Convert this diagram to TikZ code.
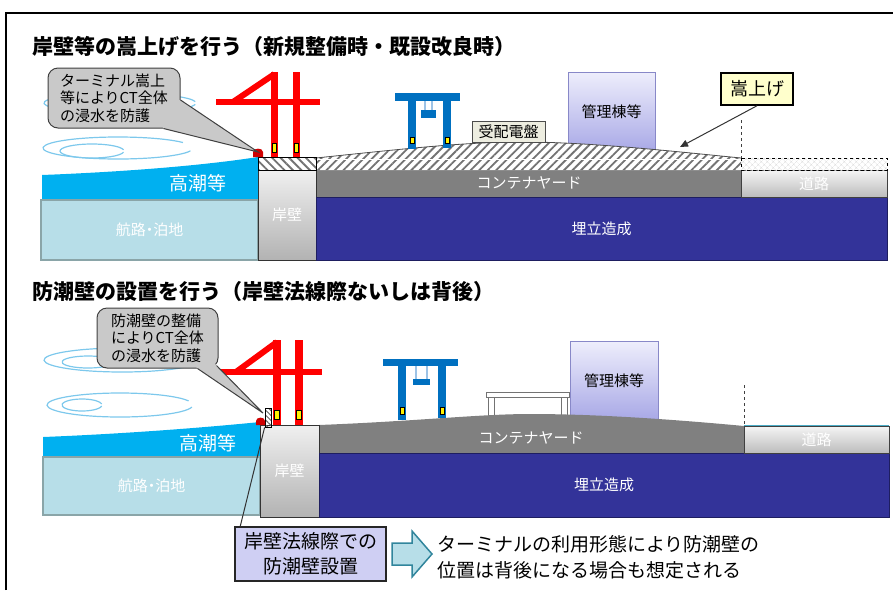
\documentclass[tikz,border=0pt]{standalone}
\usepackage{fontspec}
\newfontfamily\jp{Noto Sans CJK JP}
\newfontfamily\jpp{Noto Sans CJK JP}[RawFeature=+palt]
\usetikzlibrary{patterns.meta,arrows.meta,calc}

\definecolor{seablue}{HTML}{00B0F0}
\definecolor{fairway}{HTML}{B7DEE8}
\definecolor{fairwayedge}{HTML}{8AA5A8}
\definecolor{yardgray}{HTML}{808080}
\definecolor{reclaim}{HTML}{333399}
\definecolor{reclaimedge}{HTML}{1E1E60}
\definecolor{cranered}{HTML}{FF0000}
\definecolor{gantryblue}{HTML}{0070C0}
\definecolor{ropeblue}{HTML}{9DC3E6}
\definecolor{wave}{HTML}{7DC8EC}
\definecolor{calloutgray}{HTML}{C9C9C9}
\definecolor{officetop}{HTML}{EEEEFC}
\definecolor{officebot}{HTML}{A8A8E6}
\definecolor{officeedge}{HTML}{8888C8}
\definecolor{panelfill}{HTML}{EDEDE0}
\definecolor{notefill}{HTML}{FFFFCC}
\definecolor{lavender}{HTML}{CFCFF3}
\definecolor{arrowedge}{HTML}{31859C}
\definecolor{bollard}{HTML}{D00000}
\definecolor{tideline}{HTML}{4BACC6}

\tikzset{
  title/.style={font=\jp\bfseries\fontsize{21}{25}\selectfont, anchor=west, inner sep=0},
  wlabel/.style={font=\jp\fontsize{15}{18}\selectfont, text=white, inner sep=0},
  sealabel/.style={font=\jp\fontsize{19}{22}\selectfont, text=white, inner sep=0},
  callout/.style={draw=black!75, line width=1, fill=calloutgray, rounded corners=10,
    align=left, font=\jp\fontsize{15}{17.5}\selectfont, inner sep=0},
  wavy/.style={draw=wave, line width=1.2},
  fairwaybox/.style={fill=fairway, draw=fairwayedge, line width=2, inner sep=0,
    font=\jpp\fontsize{15}{17}\selectfont, text=white},
  quaybox/.style={top color=black!6, bottom color=black!30, draw=black!80, line width=1,
    inner sep=0, font=\jp\fontsize{15}{18}\selectfont, text=white},
  reclaimbox/.style={fill=reclaim, draw=reclaimedge, line width=1, inner sep=0,
    font=\jp\fontsize{15}{18}\selectfont, text=white},
  roadbox/.style={top color=black!4, bottom color=black!26, draw=black!75, line width=1,
    inner sep=0, font=\jp\fontsize{15}{18}\selectfont, text=white},
  officebox/.style={top color=officetop, bottom color=officebot, draw=officeedge, line width=1,
    inner sep=0, font=\jp\fontsize{15}{18}\selectfont, text=black},
  panelbox/.style={fill=panelfill, draw=black!70, line width=1, inner sep=0,
    font=\jp\fontsize{15}{18}\selectfont},
  notebox/.style={fill=notefill, draw=black, line width=1.5, inner sep=0,
    font=\jp\fontsize{18}{21}\selectfont},
  capbox/.style={pattern={Lines[angle=-45,distance=6pt,line width=1.8pt]}, pattern color=black!55,
    draw=black, line width=1, inner sep=0},
  hatchNE/.style={pattern={Lines[angle=45,distance=6pt,line width=1.8pt]}, pattern color=black!55},
  gridhatch/.style={pattern={Hatch[angle=45,distance=4pt,line width=0.4pt]}, pattern color=black!14},
  wallbox/.style={pattern={Lines[angle=-45,distance=3.5pt,line width=1pt]}, pattern color=black!60,
    draw=black, line width=0.8, inner sep=0},
  leadline/.style={draw=black!80, line width=1},
  bluebox/.style={fill=lavender, draw=black!85, line width=1.5, inner sep=0, align=center,
    font=\jp\fontsize{19}{25}\selectfont},
  bigarrow/.style={draw=arrowedge, fill=fairway, line width=1.5, line join=miter},
  notetext/.style={font=\jp\fontsize{19}{26}\selectfont, align=left, inner sep=0, anchor=west},
  yellowmark/.style={fill=yellow, draw=black, line width=0.5},
}

\begin{document}
\begin{tikzpicture}[x=1pt,y=-1pt]
\useasboundingbox (0,0) rectangle (893,590);

% outer frame
\draw[line width=2] (6,590) -- (6,13) -- (893,13);

%% ================= raising the quay and yard =================
\node[title] (title1) at (32,47) {岸壁等の嵩上げを行う（新規整備時・既設改良時）};

% swirling waves
\draw[wavy] (120,103) ++(8:76 and 10) arc[start angle=8,end angle=352,x radius=76,y radius=10];
\draw[wavy] (118,148) ++(15:75 and 11) arc[start angle=15,end angle=330,x radius=75,y radius=11];
\draw[wavy] (92,151) ++(10:32 and 7) arc[start angle=10,end angle=350,x radius=32,y radius=7];

% high water and fairway
\fill[seablue] (42,175) .. controls (120,172) and (200,166) .. (258,157) -- (258,200) -- (42,200) -- cycle;
\node[sealabel] (tide1) at (198,183) {高潮等};
\node[fairwaybox, minimum width=217, minimum height=60] (fair1) at (149.5,230) {航路・泊地};

% administration building (partly behind the raised layer)
\node[officebox, minimum width=87, minimum height=80] (office1) at (611.5,112) {管理棟等};

% container yard and the raised layer
\fill[yardgray] (316,170) rectangle (741,197);
\fill[white] (316,170) -- (316,158) .. controls (420,147) and (470,142) .. (523,142)
  .. controls (590,142) and (680,152) .. (741,158) -- (741,170) -- cycle;
\path[hatchNE] (316,170) -- (316,158) .. controls (420,147) and (470,142) .. (523,142)
  .. controls (590,142) and (680,152) .. (741,158) -- (741,170) -- cycle;
\draw[white, line width=1.2] (316,159.5) -- (741,159.5);
\draw[black!70, line width=0.8] (316,158) .. controls (420,147) and (470,142) .. (523,142)
  .. controls (590,142) and (680,152) .. (741,158);
\node[wlabel] (yard1) at (529,183) {コンテナヤード};

% quay wall with its raised cap
\node[quaybox, minimum width=58, minimum height=90] (quay1) at (287,215) {岸壁};
\node[capbox, minimum width=58, minimum height=13] (cap1) at (287,163.5) {};

% reclaimed land and road
\node[reclaimbox, minimum width=571, minimum height=63] (land1) at (601.5,228.5) {埋立造成};
\node[roadbox, minimum width=146, minimum height=27] (road1) at (814,183.5) {道路};
\draw[dashed, gridhatch] (741,158) rectangle (887,170);
\draw[dashed, black!75] (741,120) -- (741,158);

% quay crane
\fill[cranered] (271,72) rectangle (278,157);
\fill[cranered] (293,72) rectangle (300,157);
\fill[cranered] (216,99) rectangle (320,105);
\draw[cranered, line width=6] (274.5,74) -- (233,102);
\draw[yellowmark] (272.5,143) rectangle (276.5,152);
\draw[yellowmark] (294.5,143) rectangle (298.5,152);

% bollard
\fill[bollard] (253,157) -- (253,152) .. controls (253,147.5) and (263,147.5) .. (263,152) -- (263,157) -- cycle;

% transfer crane
\fill[gantryblue] (395,93) rectangle (460,101);
\fill[gantryblue] (408,101) rectangle (416,149);
\fill[gantryblue] (443,101) rectangle (451,148);
\draw[ropeblue, line width=1.2] (425,101) -- (425,110) (432,101) -- (432,110);
\fill[gantryblue] (421,110) rectangle (436,118);
\draw[yellowmark] (410,137) rectangle (414,143);
\draw[yellowmark] (445,137) rectangle (449,143);

% switchgear
\node[panelbox, minimum width=73, minimum height=21] (panel1) at (508.5,131.5) {受配電盤};

% label for the raised layer
\node[notebox, minimum width=72, minimum height=32] (raise) at (757,89) {嵩上げ};
\coordinate (raise-tip) at (680,147);
\draw[leadline, -{Triangle[length=8,width=7]}] (raise.south) -- (raise-tip);

% callout
\node[callout, minimum width=132, minimum height=60] (co1) at (114,98)
  {ターミナル嵩上\\等によりCT全体\\の浸水を防護};
\coordinate (co1-tip) at (258,152);
\fill[calloutgray] ($(co1.east)+(-6,3)$) -- ($(co1.east)+(0,2)$) -- (co1-tip)
  -- ($(co1.south east)+(-17,0)$) -- ($(co1.south east)+(-20,-5)$) -- cycle;
\draw[leadline, draw=black!75] ($(co1.east)+(0,2)$) -- (co1-tip) -- ($(co1.south east)+(-17,0)$);

%% ================= building a seawall =================
\node[title] (title2) at (32,292) {防潮壁の設置を行う（岸壁法線際ないしは背後）};

% swirling waves
\draw[wavy] (122,360) ++(10:78 and 12) arc[start angle=10,end angle=340,x radius=78,y radius=12];
\draw[wavy] (88,362) ++(10:26 and 6) arc[start angle=10,end angle=350,x radius=26,y radius=6];
\draw[wavy] (120,405) ++(10:73 and 12) arc[start angle=10,end angle=340,x radius=73,y radius=12];
\draw[wavy] (82,405) ++(10:20 and 6) arc[start angle=10,end angle=350,x radius=20,y radius=6];

% high water and fairway
\fill[seablue] (43,437) .. controls (120,434) and (200,428) .. (260,422) -- (260,457) -- (43,457) -- cycle;
\node[sealabel] (tide2) at (208,443) {高潮等};
\node[fairwaybox, minimum width=217, minimum height=58] (fair2) at (151.5,486) {航路・泊地};

% administration building and an elevated platform
\node[officebox, minimum width=88, minimum height=79] (office2) at (614,380.5) {管理棟等};
\filldraw[fill=white, draw=black!55, line width=0.8] (488,397) rectangle (494,418);
\filldraw[fill=white, draw=black!55, line width=0.8] (561,397) rectangle (567,418);
\filldraw[fill=white, draw=black!55, line width=0.8] (486,392) rectangle (569,397);

% container yard
\fill[yardgray] (319,453) -- (319,425) .. controls (420,421) and (480,414) .. (530,414)
  .. controls (600,414) and (680,420) .. (744,426) -- (744,453) -- cycle;
\node[wlabel] (yard2) at (531,438) {コンテナヤード};

% quay wall, reclaimed land and road
\node[quaybox, minimum width=59, minimum height=92] (quay2) at (289.5,471) {岸壁};
\node[reclaimbox, minimum width=570, minimum height=64] (land2) at (604,485) {埋立造成};
\node[roadbox, minimum width=145, minimum height=27] (road2) at (816.5,439.5) {道路};
\draw[tideline, line width=1] (744,425.3) -- (889,425.3);
\draw[dashed, black!75] (744,385) -- (744,426);

% quay crane
\fill[cranered] (273,340) rectangle (281,425);
\fill[cranered] (295,340) rectangle (303,425);
\fill[cranered] (218,369) rectangle (322,375);
\draw[cranered, line width=6] (277,342) -- (236,372);
\draw[yellowmark] (274.5,410) rectangle (279,419);
\draw[yellowmark] (296.5,410) rectangle (301,419);

% seawall and bollard
\node[wallbox, minimum width=6, minimum height=19] (wall) at (268,417.5) {};
\fill[bollard] (256,425) -- (256,421) .. controls (256,416.5) and (265,416.5) .. (265,421) -- (265,425) -- cycle;

% transfer crane
\fill[gantryblue] (383,359) rectangle (458,366);
\fill[gantryblue] (398,366) rectangle (406,420);
\fill[gantryblue] (438,366) rectangle (446,418);
\draw[ropeblue, line width=1.2] (416,366) -- (416,379) (427,366) -- (427,379);
\fill[gantryblue] (413,379) rectangle (430,385);
\draw[yellowmark] (400,407) rectangle (404,414);
\draw[yellowmark] (440,407) rectangle (444,414);

% callout
\node[callout, minimum width=121, minimum height=60] (co2) at (157.5,338)
  {防潮壁の整備\\によりCT全体\\の浸水を防護};
\coordinate (co2-tip) at (263,413);
\fill[calloutgray] ($(co2.south east)+(-25,-5)$) -- ($(co2.south east)+(-21,0)$) -- (co2-tip)
  -- ($(co2.south east)+(-2,-3)$) -- ($(co2.south east)+(-6,-8)$) -- cycle;
\draw[leadline, draw=black!75] ($(co2.south east)+(-21,0)$) -- (co2-tip) -- ($(co2.south east)+(-2,-3)$);

% note on the seawall position
\node[bluebox, minimum width=151, minimum height=54] (cb) at (310.5,554) {岸壁法線際での\\防潮壁設置};
\draw[leadline] (wall.south west) -- ($(cb.north west)+(6,0)$);
\draw[bigarrow] (392,543) -- (412,543) -- (412,531) -- (432,554) -- (412,577) -- (412,565) -- (392,565) -- cycle;
\node[notetext] (note) at (437,557) {ターミナルの利用形態により防潮壁の\\位置は背後になる場合も想定される};
\end{tikzpicture}
\end{document}
